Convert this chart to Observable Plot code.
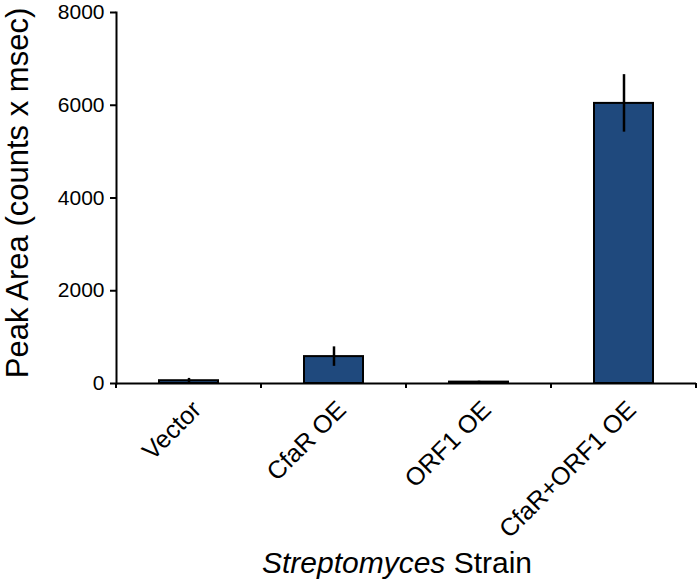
<!DOCTYPE html>
<html><head><meta charset="utf-8">
<script src="https://cdn.jsdelivr.net/npm/d3@7"></script>
<script src="https://cdn.jsdelivr.net/npm/@observablehq/plot@0.6"></script>
<style>body{margin:0;background:#fff} svg{font-family:"Liberation Sans",Arial,sans-serif}</style>
</head><body><div id="chart"></div>
<script>
const strains = ["Vector", "CfaR OE", "ORF1 OE", "CfaR+ORF1 OE"];
const peakArea = [60, 580, 30, 6040];
const errors = [50, 210, 20, 620];
const yTicks = [0, 2000, 4000, 6000, 8000];
const yTitle = "Peak Area (counts x msec)";
const xTitleItalic = "Streptomyces";
const xTitleRest = " Strain";

const data = strains.map((s, i) => ({strain: s, value: peakArea[i], err: errors[i]}));

const plot = Plot.plot({
  width: 700, height: 587,
  marginLeft: 116, marginRight: 4, marginTop: 12, marginBottom: 204,
  style: {fontFamily: '"Liberation Sans", Arial, sans-serif', fontSize: "20px", color: "#000", background: "#fff"},
  x: {domain: strains, paddingInner: 0.59, paddingOuter: 0.295, axis: null},
  y: {domain: [0, 8000], axis: null},
  marks: [
    Plot.rectY(data, {x: "strain", y: "value", fill: "#1f497d", stroke: "#000", strokeWidth: 2}),
    Plot.ruleX(data, {x: "strain", y1: d => d.value - d.err, y2: d => d.value + d.err, stroke: "#000", strokeWidth: 2.5}),
    Plot.axisY({ticks: yTicks, tickSize: 6, tickPadding: 6, fontSize: 21, label: null, strokeWidth: 2, tickFormat: d => String(d)}),
    Plot.axisX({tickSize: 0, tickRotate: -45, tickPadding: 22, dx: 8, fontSize: 25, label: null}),
    Plot.ruleY([0], {stroke: "#000", strokeWidth: 2}),
    Plot.frame({anchor: "left", strokeWidth: 2}),
    Plot.text([yTitle], {frameAnchor: "left", textAnchor: "middle", rotate: -90, dx: -98, dy: -5, fontSize: 31})
  ]
});

document.getElementById("chart").appendChild(plot);

// band-boundary tick marks and the mixed-style x-axis title
const sx = plot.scale("x");
const svg = d3.select(plot);
const yBase = 12 + (587 - 12 - 204);
const bounds = [sx.apply(strains[0]) + sx.bandwidth / 2 - sx.step / 2]
  .concat(strains.map(s => sx.apply(s) + sx.bandwidth / 2 + sx.step / 2));
svg.append("g").selectAll("line").data(bounds).join("line")
  .attr("x1", d => d).attr("x2", d => d)
  .attr("y1", yBase).attr("y2", yBase + 5)
  .attr("stroke", "#000").attr("stroke-width", 2);
const t = svg.append("text")
  .attr("x", 397).attr("y", 573)
  .attr("text-anchor", "middle")
  .attr("font-size", 30)
  .attr("fill", "#000");
t.append("tspan").attr("font-style", "italic").text(xTitleItalic);
t.append("tspan").text(xTitleRest);
</script>
</body></html>
